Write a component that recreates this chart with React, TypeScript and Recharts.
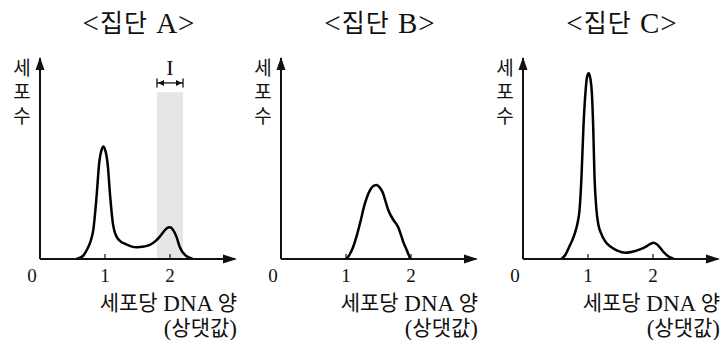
import React from 'react';
import { LineChart, Line, XAxis, YAxis, ReferenceArea, ReferenceDot, ReferenceLine } from 'recharts';

// ---- data ----
const aX = [0.56, 0.66, 0.72, 0.78, 0.82, 0.87, 0.91, 0.95, 0.975, 1.0, 1.04, 1.08, 1.12, 1.18, 1.25, 1.31, 1.4, 1.49, 1.6, 1.69, 1.78, 1.85, 1.92, 1.97, 2.0, 2.04, 2.1, 2.15, 2.23, 2.35];
const aY = [0, 1.5, 4.5, 9, 14.5, 31, 47.5, 54.5, 56, 54.5, 47.5, 31, 18, 11, 8.5, 7.5, 6.3, 5.8, 6.2, 7, 9, 11.4, 14.3, 15.7, 15.8, 14.8, 11, 6, 2, 0];

const bX = [1.01, 1.06, 1.11, 1.16, 1.215, 1.29, 1.37, 1.42, 1.47, 1.52, 1.57, 1.61, 1.65, 1.73, 1.8, 1.84, 1.88, 1.94, 1.99];
const bY = [0, 2.5, 6, 11, 17.7, 27.5, 34.3, 36.3, 36.8, 35.5, 32.7, 28.5, 24.4, 19.4, 16, 12.5, 8.6, 4, 0];

const cX = [0.59, 0.65, 0.71, 0.76, 0.8, 0.84, 0.87, 0.9, 0.93, 0.96, 0.985, 1.01, 1.035, 1.06, 1.08, 1.1, 1.13, 1.16, 1.2, 1.27, 1.35, 1.45, 1.58, 1.7, 1.8, 1.9, 1.96, 2.01, 2.06, 2.16, 2.24, 2.32];
const cY = [0, 2, 6, 9.5, 13, 18, 24.4, 41, 65.8, 82.4, 90.5, 92.4, 90, 82.4, 65.8, 41, 24.4, 17, 12.9, 8.5, 6.1, 4.2, 3.1, 3.7, 4.8, 6.3, 7.5, 8.1, 7.3, 3.6, 1.2, 0];

const tickValues = [0, 1, 2];
const xDomain = [0, 3];
const yDomain = [0, 100];
const titles = ['<집단 A>', '<집단 B>', '<집단 C>'];
const yLabelChars = ['세', '포', '수'];
const xLabelLines = ['세포당 DNA 양', '(상댓값)'];
const markRange = [1.8, 2.2];
const markTop = 83;
const markArrowY = 87.6;
const markLabel = 'I';
const markLabelY = 95.3;

const FONT = "'Liberation Serif', 'Noto Sans CJK KR', serif";
const INK = '#111';

// split text into Hangul / non-Hangul runs so Latin glyphs can be sized like the original
const splitRuns = (s: string) => {
  const runs: { t: string; h: boolean }[] = [];
  for (const ch of s) {
    const h = /[\uac00-\ud7a3]/.test(ch);
    const last = runs[runs.length - 1];
    if (last && last.h === h) last.t += ch;
    else runs.push({ t: ch, h });
  }
  return runs;
};

const MixedText = ({ text, x, y, anchor, hangulSize, latinSize, spacing = 0 }: any) => (
  <text x={x} y={y} textAnchor={anchor} dominantBaseline="central" fontFamily={FONT} fill={INK} letterSpacing={spacing}>
    {splitRuns(text).map((r, i) => (
      <tspan key={i} fontSize={r.h ? hangulSize : latinSize}>
        {r.t}
      </tspan>
    ))}
  </text>
);

const Tick = (props: any) => {
  const { x, y, payload } = props;
  const v = payload.value;
  return (
    <g>
      {v !== 0 && <line x1={x} y1={y} x2={x} y2={y - 5} stroke={INK} strokeWidth={1.2} />}
      <text x={v === 0 ? x - 8 : x} y={y + 23} textAnchor="middle" fontSize={19} fontFamily={FONT} fill={INK}>
        {v}
      </text>
    </g>
  );
};

const XArrow = (p: any) => (
  <polygon points={`${p.cx + 2},${p.cy} ${p.cx - 12},${p.cy - 4.5} ${p.cx - 12},${p.cy + 4.5}`} fill={INK} />
);
const YArrow = (p: any) => (
  <polygon points={`${p.cx},${p.cy - 1} ${p.cx - 4.5},${p.cy + 12} ${p.cx + 4.5},${p.cy + 12}`} fill={INK} />
);
const LeftEnd = (p: any) => (
  <g>
    <line x1={p.cx} y1={p.cy - 4.5} x2={p.cx} y2={p.cy + 4.5} stroke={INK} strokeWidth={1.3} />
    <polygon points={`${p.cx + 1},${p.cy} ${p.cx + 7},${p.cy - 3} ${p.cx + 7},${p.cy + 3}`} fill={INK} />
  </g>
);
const RightEnd = (p: any) => (
  <g>
    <line x1={p.cx} y1={p.cy - 4.5} x2={p.cx} y2={p.cy + 4.5} stroke={INK} strokeWidth={1.3} />
    <polygon points={`${p.cx - 1},${p.cy} ${p.cx - 7},${p.cy - 3} ${p.cx - 7},${p.cy + 3}`} fill={INK} />
  </g>
);
const MarkText = (p: any) => (
  <text x={p.cx} y={p.cy} textAnchor="middle" dominantBaseline="central" fontSize={22} fontFamily={FONT} fill={INK}>
    {markLabel}
  </text>
);

function Panel({ left, xs, ys, title, shade }: any) {
  const data = xs.map((x: number, i: number) => ({ x, y: ys[i] }));
  return (
    <div style={{ position: 'absolute', left, top: 0, width: 241, height: 340 }}>
      <LineChart width={241} height={340} data={data} margin={{ top: 58, right: 6, bottom: 51, left: 0 }}>
        <XAxis
          type="number"
          dataKey="x"
          domain={xDomain}
          ticks={tickValues}
          interval={0}
          allowDataOverflow
          tickLine={false}
          tickSize={0}
          tickMargin={0}
          height={30}
          axisLine={{ stroke: INK, strokeWidth: 2 }}
          tick={(p: any) => <Tick {...p} />}
        />
        <YAxis
          type="number"
          domain={yDomain}
          allowDataOverflow
          width={40}
          tick={false}
          tickLine={false}
          axisLine={{ stroke: INK, strokeWidth: 2 }}
        />
        {shade && (
          <ReferenceArea x1={markRange[0]} x2={markRange[1]} y1={0} y2={markTop} fill="#e6e6e6" fillOpacity={1} stroke="none" />
        )}
        {shade && (
          <ReferenceLine
            segment={[{ x: markRange[0], y: markArrowY }, { x: markRange[1], y: markArrowY }]}
            stroke={INK}
            strokeWidth={1.3}
          />
        )}
        {shade && <ReferenceDot x={markRange[0]} y={markArrowY} r={0} shape={LeftEnd} />}
        {shade && <ReferenceDot x={markRange[1]} y={markArrowY} r={0} shape={RightEnd} />}
        {shade && <ReferenceDot x={(markRange[0] + markRange[1]) / 2} y={markLabelY} r={0} shape={MarkText} />}
        <Line type="monotone" dataKey="y" stroke="#000" strokeWidth={2.5} dot={false} activeDot={false} isAnimationActive={false} />
        <ReferenceDot x={xDomain[1]} y={0} r={0} shape={XArrow} />
        <ReferenceDot x={0} y={yDomain[1]} r={0} shape={YArrow} />
      </LineChart>
      <svg width={241} height={340} style={{ position: 'absolute', left: 0, top: 0, pointerEvents: 'none' }}>
        <MixedText text={title} x={139} y={23} anchor="middle" hangulSize={25} latinSize={29} spacing={1} />
        {yLabelChars.map((c, i) => (
          <text key={c} x={22} y={68 + i * 24} textAnchor="middle" dominantBaseline="central" fontSize={19} fontFamily={FONT} fill={INK}>
            {c}
          </text>
        ))}
        {xLabelLines.map((t, i) => (
          <MixedText key={t} text={t} x={237} y={303 + i * 25} anchor="end" hangulSize={21} latinSize={23} />
        ))}
      </svg>
    </div>
  );
}

export default function App() {
  return (
    <div style={{ position: 'absolute', left: 0, top: 0, width: 726, height: 340, background: '#fff' }}>
      <Panel left={0} xs={aX} ys={aY} title={titles[0]} shade />
      <Panel left={241} xs={bX} ys={bY} title={titles[1]} />
      <Panel left={483} xs={cX} ys={cY} title={titles[2]} />
    </div>
  );
}
